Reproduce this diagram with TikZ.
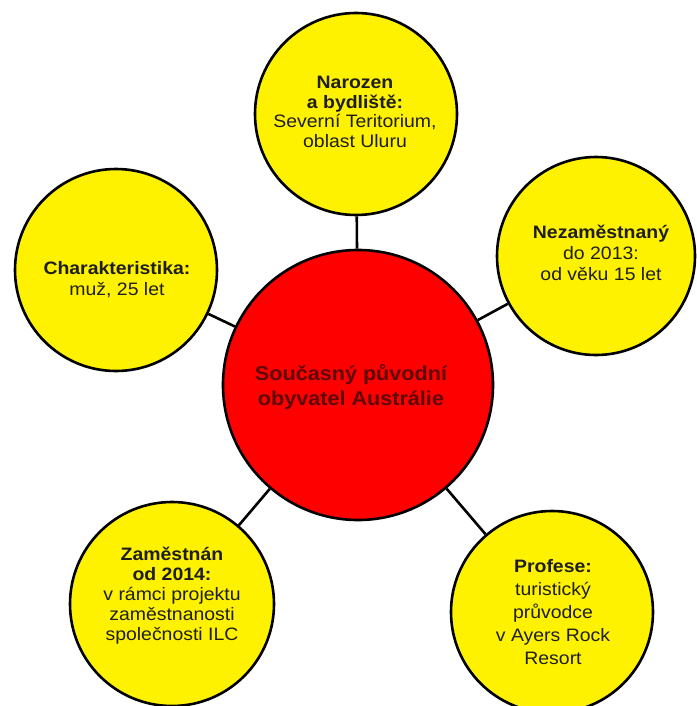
\documentclass[tikz,border=0pt]{standalone}
\usepackage{fontspec}
\setmainfont{Liberation Sans}[FakeStretch=1.08]
\definecolor{hubtext}{RGB}{95,8,8}
\definecolor{bubtext}{RGB}{30,30,30}
\tikzset{
  bubble/.style={circle, draw=black, line width=2.6pt, fill=yellow, minimum size=#1,
    inner sep=0pt, align=center, text=bubtext, font=\fontsize{18}{20}\selectfont},
  hub/.style={circle, draw=black, line width=2.6pt, fill=red, minimum size=#1,
    inner sep=0pt, align=center, text=hubtext, font=\bfseries\fontsize{20}{25}\selectfont},
  link/.style={line width=2.6pt, draw=black}
}
\begin{document}
\begin{tikzpicture}[x=1pt,y=-1pt]
\useasboundingbox (0,0) rectangle (696,706);
\node[hub=270pt] (main) at (358,385) {};
\node[bubble=202pt] (top) at (356,114) {};
\node[bubble=198pt] (right) at (596,256) {};
\node[bubble=202pt] (left) at (116,270) {};
\node[bubble=204pt] (bl) at (172,604) {};
\node[bubble=202pt] (br) at (552,612) {};
\draw[link] (main) -- (top);
\draw[link] (main) -- (right);
\draw[link] (main) -- (left);
\draw[link] (main) -- (bl);
\draw[link] (main) -- (br);
\node[align=center, text=hubtext, font=\bfseries\fontsize{20}{25}\selectfont] (maint) at (351,387) {Současný původní\\obyvatel Austrálie};
\node[align=center, text=bubtext, font=\fontsize{18}{19.5}\selectfont] (topt) at (355,112) {\textbf{Narozen}\\\textbf{a bydliště:}\\Severní Teritorium,\\oblast Uluru};
\node[align=center, text=bubtext, font=\fontsize{18}{21}\selectfont] (rightt) at (601,253) {\textbf{Nezaměstnaný}\\do 2013:\\od věku 15 let};
\node[align=center, text=bubtext, font=\fontsize{18}{21}\selectfont] (leftt) at (117,280) {\textbf{Charakteristika:}\\muž, 25 let};
\node[align=center, text=bubtext, font=\fontsize{18}{20}\selectfont] (blt) at (172,596) {\textbf{Zaměstnán}\\\textbf{od 2014:}\\v rámci projektu\\zaměstnanosti\\společnosti ILC};
\node[align=center, text=bubtext, font=\fontsize{18}{23}\selectfont] (brt) at (553,612) {\textbf{Profese:}\\turistický\\průvodce\\v Ayers Rock\\Resort};
\end{tikzpicture}
\end{document}
